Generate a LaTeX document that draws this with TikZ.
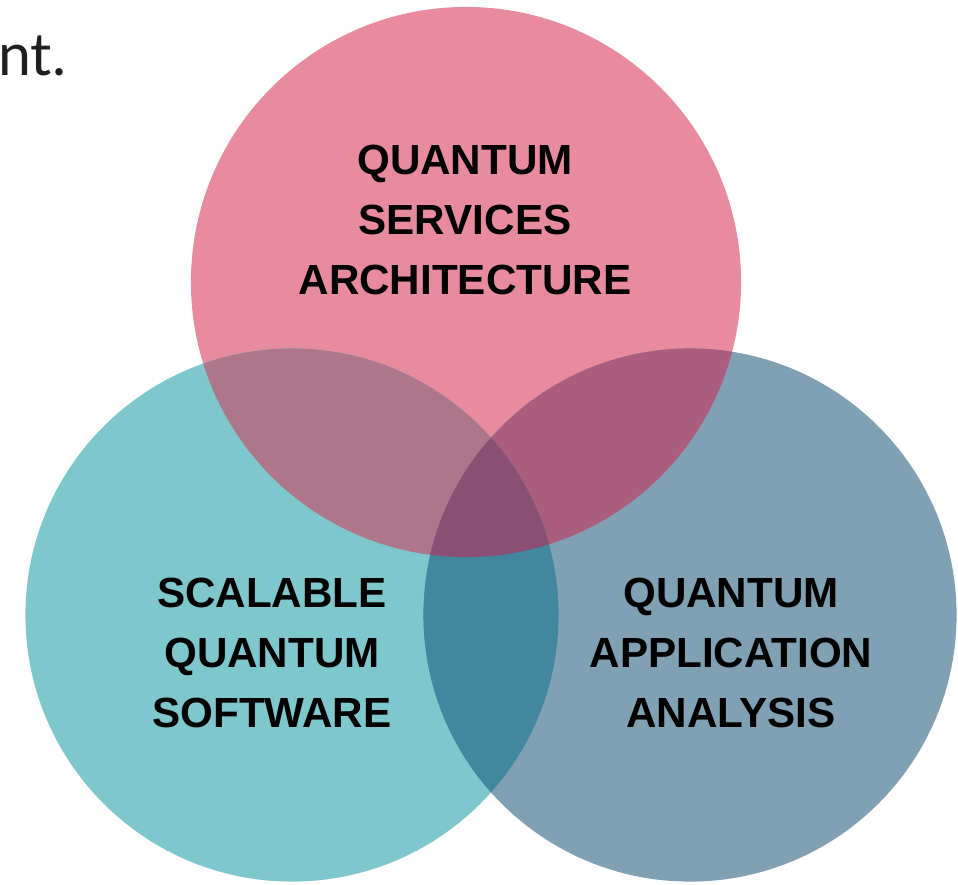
\documentclass[tikz,border=0pt]{standalone}
\usepackage{fontspec}
\setmainfont{Liberation Sans}
\newfontfamily\introfont{Lato}
\usepackage{xcolor}
\usetikzlibrary{positioning}

\definecolor{archpink}{HTML}{E98B9E}
\definecolor{softteal}{HTML}{7EC8CD}
\definecolor{appslate}{HTML}{80A1B4}
\definecolor{pinkteal}{HTML}{AD768A}
\definecolor{pinkslate}{HTML}{AA5D7C}
\definecolor{tealslate}{HTML}{41879E}
\definecolor{allthree}{HTML}{8A4F73}

\begin{document}
\begin{tikzpicture}[
    x=0.025cm, y=-0.025cm,
    area/.style={font=\fontsize{30}{42.7}\selectfont\bfseries, align=center, text=black, inner sep=0pt},
    intro/.style={font=\introfont\fontsize{42}{50}\selectfont, text=black!88, inner sep=0pt},
]
\useasboundingbox (0,0) rectangle (958,884);

% Circle centres
\coordinate (qsa) at (466,282);
\coordinate (sqs) at (292,615);
\coordinate (qaa) at (690,615);
\def\rtop{6.875cm}
\def\rlow{6.6625cm}

% Base discs
\fill[archpink] (qsa) circle[radius=\rtop];
\fill[softteal] (sqs) circle[radius=\rlow];
\fill[appslate] (qaa) circle[radius=\rlow];

% Pairwise overlaps
\begin{scope}
  \clip (qsa) circle[radius=\rtop];
  \fill[pinkteal] (sqs) circle[radius=\rlow];
  \fill[pinkslate] (qaa) circle[radius=\rlow];
\end{scope}
\begin{scope}
  \clip (sqs) circle[radius=\rlow];
  \fill[tealslate] (qaa) circle[radius=\rlow];
\end{scope}

% Centre of all three
\begin{scope}
  \clip (qsa) circle[radius=\rtop];
  \clip (sqs) circle[radius=\rlow];
  \fill[allthree] (qaa) circle[radius=\rlow];
\end{scope}

% Labels
\node[area] (qsalabel) at (465,220) {QUANTUM\\SERVICES\\ARCHITECTURE};
\node[area] (sqslabel) at (272,653) {SCALABLE\\QUANTUM\\SOFTWARE};
\node[area] (qaalabel) at (731,653) {QUANTUM\\APPLICATION\\ANALYSIS};

% Tail of the running text
\node[intro, anchor=base west] (tail) at (-2,75) {nt.};
\end{tikzpicture}
\end{document}
